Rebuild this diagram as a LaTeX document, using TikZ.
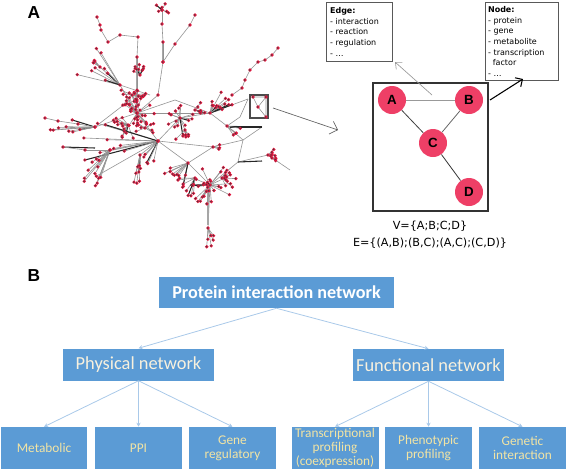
\documentclass[tikz,border=0pt]{standalone}
\usepackage{fontspec}
\setmainfont{Carlito}
\newfontfamily\dvs{DejaVu Sans}
\newfontfamily\lbs{Liberation Sans}
\usetikzlibrary{arrows.meta}
\definecolor{boxblue}{HTML}{5B9BD5}
\definecolor{arrblue}{HTML}{A9C9E9}
\definecolor{cream}{HTML}{F8F1DE}
\definecolor{yel}{HTML}{F2E4A4}
\definecolor{nodepink}{HTML}{EE3F66}
\definecolor{dotred}{HTML}{E0143C}
\tikzset{
  thinedge/.style={draw=gray!85,line width=0.45},
  thickedge/.style={draw=black!85,line width=0.8},
  grayedge/.style={draw=gray!70,line width=1.2},
  bbox/.style={fill=boxblue,draw=none,inner sep=1pt,align=center},
  barrow/.style={draw=arrblue,line width=0.6,-{Stealth[length=3pt,width=3pt]}},
  gnode/.style={circle,fill=nodepink,minimum size=21pt,inner sep=0,font=\lbs\bfseries\fontsize{10}{10}\selectfont},
  infobox/.style={draw=gray!70!black,line width=0.6,anchor=north west,align=left,inner xsep=2pt,
    font=\dvs\fontsize{6}{7.9}\selectfont},
  openarrow/.style={-{Straight Barb[length=5pt,width=10pt]}}
}
\newif\ifdotpass
\newcommand\netdot[1]{\fill[dotred] (#1) circle (1.8); \fill[black!75] (#1) ++(-0.3,0) circle (0.75);}
\newcommand\netfan[7]{%
  \foreach \k in {1,...,#3}{%
    \pgfmathsetmacro\ang{#4+rnd*(#5-#4)}%
    \pgfmathsetmacro\rr{#6+rnd*(#7-#6)}%
    \pgfmathsetmacro\thk{rnd}%
    \path (#1,#2) ++(\ang:\rr) coordinate (fp);
    \ifdotpass
      \netdot{fp}
    \else
      \ifdim\thk pt<0.1pt
        \draw[thickedge] (#1,#2) -- (fp);
      \else
        \draw[thinedge] (#1,#2) -- (fp);
      \fi
    \fi
  }%
  \ifdotpass\netdot{#1,#2}\fi
}
\newcommand\netchain[1]{%
  \ifdotpass
    \foreach \x/\y in {#1}{\netdot{\x,\y}}%
  \else
    \foreach[remember=\x as \lx (initially 0), remember=\y as \ly (initially 0), count=\c] \x/\y in {#1}{%
      \ifnum\c>1 \draw[thinedge] (\lx,\ly) -- (\x,\y);\fi}%
  \fi
}
\newcommand\allfans{%
\netfan{137}{113}{30}{0}{360}{3}{20}
\netfan{132}{95}{18}{0}{360}{3}{14}
\netfan{140}{75}{8}{-150}{-30}{4}{12}
\netfan{128}{125}{14}{60}{240}{4}{18}
\netfan{145}{128}{10}{0}{360}{3}{12}
\netfan{158}{141}{10}{150}{200}{30}{85}
\netfan{158}{141}{5}{100}{135}{15}{30}
\netfan{180}{118}{14}{0}{360}{5}{20}
\netfan{195}{110}{6}{-60}{60}{4}{12}
\netfan{210}{113}{14}{-80}{-15}{8}{24}
\netfan{210}{185}{28}{0}{360}{3}{22}
\netfan{222}{178}{12}{-60}{90}{4}{14}
\netfan{188}{163}{10}{100}{170}{10}{28}
\netfan{195}{178}{8}{90}{180}{6}{20}
\netfan{268}{155}{10}{-70}{70}{3}{10}
\netfan{227}{126}{4}{-30}{60}{5}{14}
\netfan{110}{150}{12}{100}{150}{15}{45}
\netfan{140}{155}{8}{80}{105}{10}{40}
\netfan{95}{127}{8}{160}{200}{15}{45}
\netfan{120}{85}{8}{190}{240}{15}{45}
\netfan{100}{67}{5}{190}{250}{5}{12}
\netfan{162}{10}{6}{150}{390}{2}{8}
\netfan{208}{228}{6}{50}{130}{8}{20}
\netfan{213}{147}{3}{-20}{20}{4}{9}
\netfan{185}{130}{6}{40}{140}{5}{15}
\netchain{162/10,162/24,163/42,163/62,158/95,137/113}
\netchain{97/17,100/25,101/30,108/42,120/35,138/37,137/57,137/100}
\netchain{195/15,190/25,175/44,163/62}
\netchain{278/48,272/55,265/60,258/62,250/70,245/80,242/88,232/95}
\netchain{45/118,58/121,78/124,95/127}
\netchain{63/147,85/150,110/150}
}
\begin{document}
\begin{tikzpicture}[x=0.75pt,y=-0.75pt]
\useasboundingbox (0,0) rectangle (567,469);
% ---------- panel labels
\node[font=\lbs\bfseries\fontsize{13}{13}\selectfont] (labA) at (34,13) {A};
\node[font=\lbs\bfseries\fontsize{13}{13}\selectfont] (labB) at (34,276) {B};
% ---------- network
\foreach \a/\b/\c/\d in {137/113/158/141, 158/141/180/118, 158/141/188/163, 180/118/210/113,
  210/113/227/126, 227/126/243/140, 243/140/238/162, 238/162/268/155, 238/162/210/185,
  188/163/210/185, 268/155/290/170, 210/113/248/99, 137/113/210/113, 95/127/137/113,
  110/150/158/141, 120/85/137/113, 100/67/120/85, 140/155/158/141, 208/228/210/185,
  185/130/180/118, 213/147/243/140, 227/126/240/117, 240/117/248/99, 158/141/213/147,
  137/113/175/100, 175/100/210/113, 130/100/95/127, 150/95/120/85, 188/163/213/147,
  227/126/262/127, 243/140/262/127}
  {\draw[thinedge] (\a,\b) -- (\c,\d);}
\draw[grayedge] (137,57) -- (137,108);
\draw[grayedge] (163,42) -- (163,62);
\draw[grayedge] (208,190) -- (208,225);
\draw[thickedge] (62,147) -- (95,148);
\draw[thickedge] (230,127) -- (262,127);
\draw[thickedge] (238,162) -- (262,161);
\draw[thickedge] (190,185) -- (212,185);
\pgfmathsetseed{11}\dotpassfalse
\allfans
\pgfmathsetseed{11}\dotpasstrue
\allfans
% selection box
\node[draw=gray!60!black,line width=1.3,minimum width=13.5pt,minimum height=17.25pt,inner sep=0] (sel) at (259,106.5) {};
\draw[thinedge] (253,97) -- (266,97) -- (258,107) -- (253,97);
\draw[thinedge] (258,107) -- (266,117) -- (266,97);
\netdot{253,97}\netdot{266,97}\netdot{258,107}\netdot{266,117}
% ---------- zoomed graph
\node[draw=black!80,line width=0.9,minimum width=86.25pt,minimum height=96pt,inner sep=0] (bigbox) at (430.5,147) {};
\node[gnode] (A) at (392,100) {A};
\node[gnode] (B) at (469,100) {B};
\node[gnode] (C) at (433,143) {C};
\node[gnode] (D) at (469,192) {D};
\draw[gray!80,line width=0.6] (A) -- (B);
\draw[black!75,line width=0.6] (A) -- (C);
\draw[gray!80!black,line width=0.6] (B) -- (C);
\draw[black!80,line width=0.6] (C) -- (D);
\node[infobox,minimum width=49.5pt,minimum height=44.25pt,text width=44pt] (edgebox) at (326,2)
  {\textbf{Edge:}\\- interaction\\- reaction\\- regulation\\- \ldots};
\node[infobox,minimum width=54.75pt,minimum height=56.25pt,text width=51pt] (nodebox) at (485,2)
  {\textbf{Node:}\\- protein\\- gene\\- metabolite\\- transcription\\\hspace*{3.6pt}factor\\- \ldots};
\coordinate (selout) at (273,108);
\coordinate (selin) at (338,130);
\coordinate (abm) at (432,95);
\coordinate (etip) at (395,62);
\coordinate (bout) at (490,100);
\coordinate (ntip) at (523,79);
\draw[gray!75!black,line width=0.5,openarrow] (selout) -- (selin);
\draw[gray!80,line width=0.5,-{Straight Barb[length=4pt,width=7pt]}] (abm) -- (etip);
\draw[black,line width=0.8,-{Straight Barb[length=4pt,width=8pt]}] (bout) -- (ntip);
\node[font=\dvs\fontsize{8.4}{8.4}\selectfont] (vset) at (430,226) {V=\{A;B;C;D\}};
\node[font=\dvs\fontsize{8.4}{8.4}\selectfont] (eset) at (430,243) {E=\{(A,B);(B,C);(A,C);(C,D)\}};
% ---------- panel B
\node[bbox,minimum width=176.25pt,minimum height=23.25pt,text=white,font=\bfseries\fontsize{13.6}{13.6}\selectfont] (top) at (276.5,292.5) {Protein interaction network};
\node[bbox,minimum width=113.25pt,minimum height=24pt,text=cream,font=\fontsize{13.8}{13.8}\selectfont] (phys) at (138.5,364.5) {Physical network};
\node[bbox,minimum width=113.25pt,minimum height=24pt,text=cream,font=\fontsize{13.8}{13.8}\selectfont] (func) at (428.5,365) {Functional network};
\tikzset{leaf/.style={bbox,minimum width=65.25pt,minimum height=31.5pt,text=yel,font=\fontsize{10}{10.5}\selectfont}}
\node[leaf,minimum width=64.5pt] (met) at (44,448) {Metabolic};
\node[leaf] (ppi) at (138.5,448) {PPI};
\node[leaf] (gene) at (232.5,448) {Gene\\regulatory};
\node[leaf] (trans) at (335,448) {Transcriptional\\profiling\\(coexpression)};
\node[leaf] (pheno) at (428.5,448) {Phenotypic\\profiling};
\node[leaf] (genet) at (522.5,448) {Genetic\\interaction};
\draw[barrow] (top.south) -- (phys.north);
\draw[barrow] (top.south) -- (func.north);
\draw[barrow] (phys.south) -- (met.north);
\draw[barrow] (phys.south) -- (ppi.north);
\draw[barrow] (phys.south) -- (gene.north);
\draw[barrow] (func.south) -- (trans.north);
\draw[barrow] (func.south) -- (pheno.north);
\draw[barrow] (func.south) -- (genet.north);
\end{tikzpicture}
\end{document}
